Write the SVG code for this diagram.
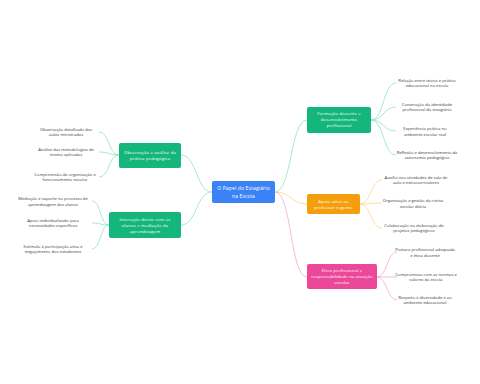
<svg xmlns="http://www.w3.org/2000/svg" width="480" height="384" viewBox="0 0 480 384">
<style>
.n{font-family:"Open Sans","Noto Sans",sans-serif;font-size:4.3px;fill:#fff;text-anchor:middle;letter-spacing:0.15px}
.c{font-family:"Open Sans","Noto Sans",sans-serif;font-size:4.2px;fill:#3a3a3a;text-anchor:middle}
.g{fill:#14b67b}
.lg{fill:none;stroke:#8fe3c4;stroke-width:0.8}
.lo{fill:none;stroke:#fcd48e;stroke-width:0.8}
.lp{fill:none;stroke:#f6a9cf;stroke-width:0.8}
</style>
<rect width="480" height="384" fill="#fff"/>
<g id="connectors">
<path class="lg" d="M212,192 C196,192 197,155 181,155"/>
<path class="lg" d="M212,192 C196,192 197,225 181,225"/>
<path class="lg" d="M275,192 C292,192 290,120 307,120"/>
<path class="lo" d="M275,192 C292,192 290,204 307,204"/>
<path class="lp" d="M275,192 C292,192 290,277 307,277"/>
<path class="lg" d="M119,155 C108,155 110,132 99,132"/>
<path class="lg" d="M119,155 C108,155 110,152 99,152"/>
<path class="lg" d="M119,155 C108,155 110,177 99,177"/>
<path class="lg" d="M109,225 C100,225 101,201 92,201"/>
<path class="lg" d="M109,225 C100,225 101,223 92,223"/>
<path class="lg" d="M109,225 C100,225 101,249 92,249"/>
<path class="lg" d="M371,120 C384,120 383,83 396,83"/>
<path class="lg" d="M371,120 C384,120 383,107 396,107"/>
<path class="lg" d="M371,120 C384,120 383,131 396,131"/>
<path class="lg" d="M371,120 C384,120 383,155 396,155"/>
<path class="lo" d="M360,204 C371,204 371,180 382,180"/>
<path class="lo" d="M360,204 C371,204 371,203 382,203"/>
<path class="lo" d="M360,204 C371,204 371,228 382,228"/>
<path class="lp" d="M377,277 C387,277 387,252 397,252"/>
<path class="lp" d="M377,277 C387,277 387,277 397,277"/>
<path class="lp" d="M377,277 C387,277 387,300 397,300"/>
</g>
<g id="center">
<rect x="212" y="181" width="63" height="22" rx="2" fill="#3b82f6"/>
<text class="n" style="font-size:5px"><tspan x="243.5" y="190">O Papel do Estagiário</tspan><tspan x="243.5" y="197.5">na Escola</tspan></text>
</g>
<g id="n-observacao">
<rect x="119" y="143" width="62" height="25" rx="2" class="g"/>
<text class="n"><tspan x="150" y="154.3">Observação e análise da</tspan><tspan x="150" y="160.3">prática pedagógica</tspan></text>
</g>
<g id="n-interacao">
<rect x="109" y="212" width="72" height="26" rx="2" class="g"/>
<text class="n"><tspan x="145" y="220.6">Interação direta com os</tspan><tspan x="145" y="226.6">alunos e mediação da</tspan><tspan x="145" y="232.6">aprendizagem</tspan></text>
</g>
<g id="n-formacao">
<rect x="307" y="107" width="64" height="26" rx="2" class="g"/>
<text class="n"><tspan x="339" y="115.3">Formação docente e</tspan><tspan x="339" y="121.3">desenvolvimento</tspan><tspan x="339" y="127.3">profissional</tspan></text>
</g>
<g id="n-apoio">
<rect x="307" y="194" width="53" height="20" rx="2" fill="#f59e0b"/>
<text class="n"><tspan x="333.5" y="202.6">Apoio ativo ao</tspan><tspan x="333.5" y="208.9">professor regente</tspan></text>
</g>
<g id="n-etica">
<rect x="307" y="264" width="70" height="25" rx="2" fill="#ec4899"/>
<text class="n"><tspan x="342" y="271.6">Ética profissional e</tspan><tspan x="342" y="277.9">responsabilidade na atuação</tspan><tspan x="342" y="283.9">escolar</tspan></text>
</g>
<g id="c-obs1"><text class="c"><tspan x="66" y="130.5">Observação detalhada das</tspan><tspan x="66" y="136">aulas ministradas</tspan></text></g>
<g id="c-obs2"><text class="c"><tspan x="66" y="150.5">Análise das metodologias de</tspan><tspan x="66" y="156">ensino aplicadas</tspan></text></g>
<g id="c-obs3"><text class="c"><tspan x="65" y="175.5">Compreensão da organização e</tspan><tspan x="65" y="181">funcionamento escolar</tspan></text></g>
<g id="c-int1"><text class="c"><tspan x="53" y="199.8">Mediação e suporte no processo de</tspan><tspan x="53" y="205.5">aprendizagem dos alunos</tspan></text></g>
<g id="c-int2"><text class="c"><tspan x="53" y="221.5">Apoio individualizado para</tspan><tspan x="53" y="227.2">necessidades específicas</tspan></text></g>
<g id="c-int3"><text class="c"><tspan x="53" y="247.5">Estímulo à participação ativa e</tspan><tspan x="53" y="253.2">engajamento dos estudantes</tspan></text></g>
<g id="c-for1"><text class="c"><tspan x="427" y="81.5">Relação entre teoria e prática</tspan><tspan x="427" y="87.2">educacional na escola</tspan></text></g>
<g id="c-for2"><text class="c"><tspan x="427" y="105.5">Construção da identidade</tspan><tspan x="427" y="111.2">profissional do estagiário</tspan></text></g>
<g id="c-for3"><text class="c"><tspan x="425" y="130.2">Experiência prática no</tspan><tspan x="425" y="135.8">ambiente escolar real</tspan></text></g>
<g id="c-for4"><text class="c"><tspan x="427" y="153.5">Reflexão e desenvolvimento da</tspan><tspan x="427" y="159.2">autonomia pedagógica</tspan></text></g>
<g id="c-apo1"><text class="c"><tspan x="416" y="178.8">Auxílio nas atividades de sala de</tspan><tspan x="416" y="184.2">aula e extracurriculares</tspan></text></g>
<g id="c-apo2"><text class="c"><tspan x="413" y="202.2">Organização e gestão da rotina</tspan><tspan x="413" y="207.8">escolar diária</tspan></text></g>
<g id="c-apo3"><text class="c"><tspan x="414" y="226.5">Colaboração na elaboração de</tspan><tspan x="414" y="231.8">projetos pedagógicos</tspan></text></g>
<g id="c-eti1"><text class="c"><tspan x="425" y="250.8">Postura profissional adequada</tspan><tspan x="425" y="256.5">e ética docente</tspan></text></g>
<g id="c-eti2"><text class="c"><tspan x="426" y="275.5">Compromisso com as normas e</tspan><tspan x="426" y="280.8">valores da escola</tspan></text></g>
<g id="c-eti3"><text class="c"><tspan x="425" y="298.5">Respeito à diversidade e ao</tspan><tspan x="425" y="304.2">ambiente educacional</tspan></text></g>
</svg>
